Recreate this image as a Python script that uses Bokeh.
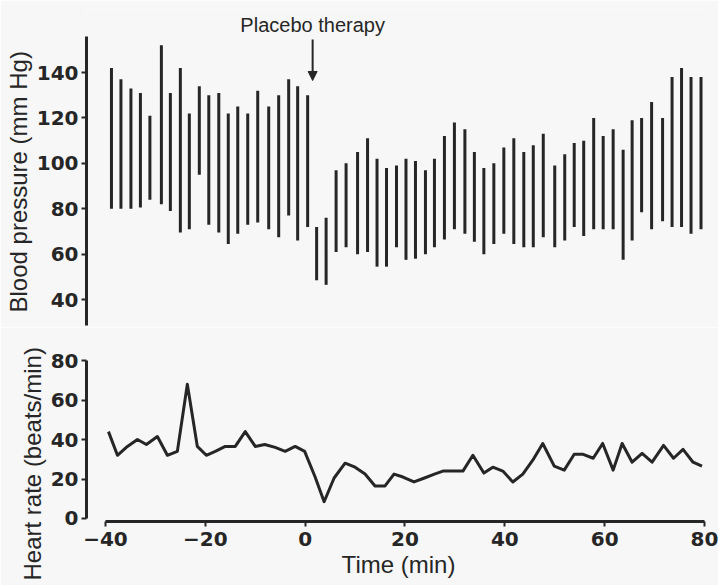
from bokeh.plotting import figure
from bokeh.layouts import column
from bokeh.models import FixedTicker, Arrow, NormalHead, Range1d, Title
from bokeh.core.properties import value
from bokeh.embed import file_html
from bokeh.resources import INLINE

# ---------------- data ----------------
bp_time = [-38.8, -36.9, -34.9, -33.0, -31.1, -28.8, -27.0, -25.0, -23.2, -21.2,
           -19.3, -17.3, -15.4, -13.5, -11.5, -9.5, -7.3, -5.3, -3.3, -1.5, 0.5,
           2.3, 4.2, 6.2, 8.2, 10.5, 12.5, 14.4, 16.3, 18.3, 20.2,
           22.1, 24.1, 25.9, 27.9, 29.9, 32.0, 33.9, 35.8, 37.8, 39.8,
           41.8, 43.8, 45.7, 47.7, 50.0, 52.0, 53.9, 55.8, 57.8, 59.7,
           61.7, 63.7, 65.5, 67.4, 69.4, 71.6, 73.5, 75.4, 77.3, 79.3]
bp_systolic = [142, 137, 133, 131, 121, 152, 131, 142, 122, 134,
               130, 131, 122, 125, 122, 132, 125, 130, 137, 134, 130,
               72, 76, 97, 100, 105, 111, 102, 98, 99, 102,
               101, 97, 102, 112, 118, 115, 105, 98, 100, 107,
               111, 105, 108, 113, 99, 104, 109, 110, 120, 112,
               115, 106, 119, 120, 127, 120, 138, 142, 138, 138]
bp_diastolic = [80, 80, 80, 80.5, 84, 82, 79, 69.5, 71, 95,
                73, 69.5, 64.5, 69, 73, 74, 71, 67.5, 77, 66, 72,
                48.5, 46.5, 61, 63, 60, 61, 54.5, 54.5, 63, 57.5,
                58, 60, 63, 66.5, 71, 69, 65.5, 60, 64.5, 69,
                64.5, 63, 63, 67.5, 63, 66, 72, 68, 71, 71,
                71, 57.5, 66, 78.5, 71, 74.5, 72, 72, 69, 71]

hr_time = [-39.4, -37.6, -35.6, -33.6, -31.8, -29.6, -27.6, -25.6, -23.6, -21.6,
           -19.8, -18.0, -16.0, -14.0, -12.0, -10.0, -8.1, -6.0, -4.0, -2.0,
           -0.1, 2.0, 3.8, 5.8, 8.0, 10.0, 12.0, 14.0, 16.0, 17.8,
           19.6, 21.8, 23.9, 25.9, 27.6, 29.6, 31.6, 33.6, 35.8, 37.6,
           39.6, 41.6, 43.6, 45.6, 47.6, 49.9, 51.9, 53.9, 55.7, 57.7,
           59.6, 61.7, 63.5, 65.5, 67.5, 69.5, 71.8, 73.8, 75.7, 77.7, 79.5]
hr_rate = [44, 32, 36.5, 40, 37.5, 41.5, 32, 34, 68, 36.5,
           32, 34, 36.5, 36.5, 44, 36.5, 37.5, 36, 34, 36.5,
           34, 21, 8.5, 20.5, 28, 26, 22.5, 16.5, 16.5, 22.5,
           21, 18.5, 20.5, 22.5, 24, 24, 24, 32, 23, 26,
           24, 18.5, 22.5, 29.5, 38, 26.5, 24.5, 32.5, 32.5, 30.5,
           38, 24.5, 38, 28.5, 33, 28.5, 37, 30.5, 35, 28.5, 26.5]

bp_ticks = [40, 60, 80, 100, 120, 140]
hr_ticks = [0, 20, 40, 60, 80]
time_ticks = [-40, -20, 0, 20, 40, 60, 80]
time_tick_labels = {-40: "\u221240", -20: "\u221220"}
placebo_label = "Placebo therapy"
placebo_time = 1.5
bp_title = "Blood pressure (mm Hg)"
hr_title = "Heart rate (beats/min)"
time_title = "Time (min)"

# ---------------- styling ----------------
INK = "#262626"
BG = "#f7f7f7"
FONT = "Liberation Sans"
TICK_FONT = "DejaVu Sans"


def style_yaxis(ax, ticks, bounds):
    ax.ticker = FixedTicker(ticks=ticks)
    ax.bounds = bounds
    ax.axis_line_width = 3
    ax.axis_line_color = INK
    ax.major_tick_line_width = 2
    ax.major_tick_line_color = INK
    ax.major_tick_out = 5
    ax.major_tick_in = 0
    ax.minor_tick_out = 0
    ax.minor_tick_in = 0
    ax.major_label_text_font = TICK_FONT
    ax.major_label_text_font_style = "bold"
    ax.major_label_text_font_size = "20px"
    ax.major_label_text_color = INK
    ax.major_label_standoff = 3


def side_title(text, offset):
    # on the left side, align="left" starts the text at the bottom of the frame;
    # a positive offset moves it up, a negative one down
    return Title(text=text, align="left", offset=offset, standoff=4,
                 text_font=FONT, text_font_style="normal",
                 text_font_size="24px", text_color=INK)


x_range = Range1d(-43.8, 81.2)

top = figure(width=718, height=327, x_range=x_range, y_range=Range1d(27.7, 168.2),
             output_backend="svg", toolbar_location=None, x_axis_type=None,
             min_border_left=84, min_border_right=8, min_border_top=8, min_border_bottom=0,
             background_fill_color=BG, border_fill_color=BG)
top.outline_line_color = None
top.grid.visible = False
top.segment(x0=bp_time, y0=bp_diastolic, x1=bp_time, y1=bp_systolic,
            line_width=3, line_color=INK)
top.text(x=[placebo_time], y=[156.2], text=[placebo_label], text_align="center",
         text_baseline="bottom", text_font=value(FONT), text_font_size="20px",
         text_color=INK)
top.add_layout(Arrow(end=NormalHead(size=9, fill_color=INK, line_color=INK),
                     x_start=placebo_time, y_start=154.5,
                     x_end=placebo_time, y_end=136.5,
                     line_width=2, line_color=INK))
style_yaxis(top.yaxis[0], bp_ticks, (28.5, 156))
top.add_layout(side_title(bp_title, 15), "left")

bot = figure(width=718, height=258, x_range=x_range, y_range=Range1d(-1.52, 87.6),
             output_backend="svg", toolbar_location=None,
             min_border_left=84, min_border_right=8, min_border_top=18, min_border_bottom=64,
             background_fill_color=BG, border_fill_color=BG)
bot.outline_line_color = None
bot.grid.visible = False
bot.line(hr_time, hr_rate, line_width=3, line_color=INK, line_join="round")
style_yaxis(bot.yaxis[0], hr_ticks, (0, 80))
bot.add_layout(side_title(hr_title, -59), "left")

xa = bot.xaxis[0]
xa.ticker = FixedTicker(ticks=time_ticks)
xa.major_label_overrides = time_tick_labels
xa.bounds = (-40, 80)
xa.axis_line_width = 3
xa.axis_line_color = INK
xa.major_tick_line_width = 2
xa.major_tick_line_color = INK
xa.major_tick_out = 5
xa.major_tick_in = 0
xa.minor_tick_out = 0
xa.minor_tick_in = 0
xa.major_label_text_font = TICK_FONT
xa.major_label_text_font_style = "bold"
xa.major_label_text_font_size = "20px"
xa.major_label_text_color = INK
xa.major_label_standoff = 5
xa.axis_label = time_title
xa.axis_label_text_font = FONT
xa.axis_label_text_font_style = "normal"
xa.axis_label_text_font_size = "24px"
xa.axis_label_text_color = INK
xa.axis_label_standoff = 2

layout = column(top, bot)
open("out.html", "w").write(file_html(layout, INLINE))
